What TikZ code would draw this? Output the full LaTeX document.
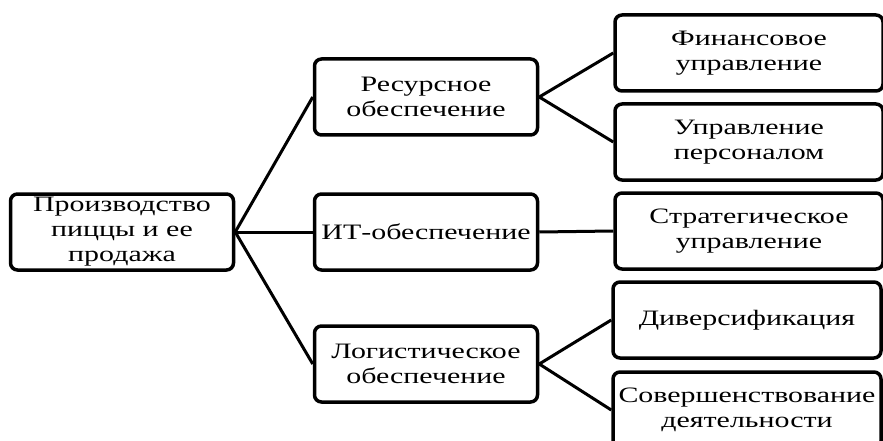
\documentclass[tikz,border=0pt]{standalone}
\usepackage{fontspec}
\setmainfont{Liberation Serif}[FakeStretch=1.36]
\usepackage{tikz}
\newcommand{\MidX}{426}
\newcommand{\RightX}{749}

\begin{document}
\begin{tikzpicture}[x=1pt,y=-1pt,
  box/.style={draw, line width=3.5pt, rounded corners=7pt, align=center,
    minimum height=76pt, inner sep=1pt, font=\fontsize{22}{25}\selectfont},
  leftbox/.style={box, minimum width=223pt},
  rightbox/.style={box, minimum width=268pt},
  link/.style={line width=3pt}]

\useasboundingbox (0,0) rectangle (883,441);

\node [leftbox] (prod) at (122,232) {Производство\\пиццы и ее\\продажа};

\node [leftbox] (res) at (\MidX,97) {Ресурсное\\обеспечение};
\node [leftbox] (it) at (\MidX,232) {ИТ-обеспечение};
\node [leftbox] (log) at (\MidX,364) {Логистическое\\обеспечение};

\node [rightbox] (fin) at (\RightX,53) {Финансовое\\управление};
\node [rightbox] (pers) at (\RightX,142) {Управление\\персоналом};
\node [rightbox] (strat) at (\RightX,231) {Стратегическое\\управление};
\node [rightbox] (div) at (\RightX-2,320) {Диверсификация};
\node [rightbox] (sov) at (\RightX-2,410) {Совершенствование\\деятельности};

\draw [link] (prod.east) -- (res.west);
\draw [link] (prod.east) -- (it.west);
\draw [link] (prod.east) -- (log.west);

\draw [link] (res.east) -- (fin.west);
\draw [link] (res.east) -- (pers.west);
\draw [link] (it.east) -- (strat.west);
\draw [link] (log.east) -- (div.west);
\draw [link] (log.east) -- (sov.west);

\end{tikzpicture}
\end{document}
